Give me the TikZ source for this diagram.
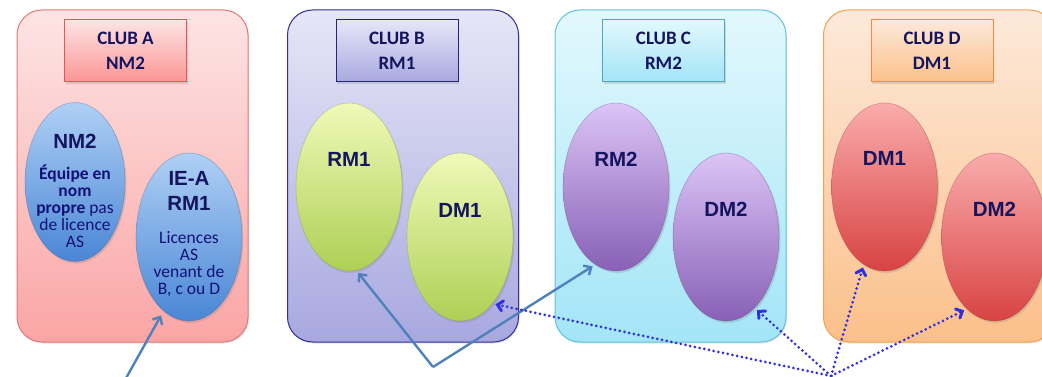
\documentclass[tikz,border=0pt]{standalone}
\usepackage{fontspec}
\setmainfont{Carlito}
\newfontfamily\arialfont{Liberation Sans}
\usetikzlibrary{shapes.geometric,arrows.meta,calc,positioning,shadows}
\definecolor{navy}{HTML}{14145F}
\definecolor{arrblue}{HTML}{4F81BD}
\definecolor{dotblue}{HTML}{3030E0}
\definecolor{lineA}{HTML}{E27878}\definecolor{topA}{HTML}{FDE4E4}\definecolor{botA}{HTML}{FBA5A5}
\definecolor{lineB}{HTML}{2E2E96}\definecolor{topB}{HTML}{E6E6F7}\definecolor{botB}{HTML}{A8A8E0}
\definecolor{lineC}{HTML}{60C3DC}\definecolor{topC}{HTML}{E2F8FD}\definecolor{botC}{HTML}{A3E5F7}
\definecolor{lineD}{HTML}{F4A050}\definecolor{topD}{HTML}{FDE9DA}\definecolor{botD}{HTML}{FBC08A}
\definecolor{ellAtop}{HTML}{AFD0F5}\definecolor{ellAbot}{HTML}{4A86D5}
\definecolor{ellBtop}{HTML}{F0F9B8}\definecolor{ellBbot}{HTML}{ADD055}
\definecolor{ellCtop}{HTML}{DCC4F6}\definecolor{ellCbot}{HTML}{8860B6}
\definecolor{ellDtop}{HTML}{FAACAC}\definecolor{ellDbot}{HTML}{D84343}
\tikzset{
	club/.style n args={3}{draw=#1, line width=1pt, rounded corners=25pt,
		top color=#2, bottom color=#3, minimum width=231pt, minimum height=332pt,
		inner sep=0pt, drop shadow={opacity=.2, shadow xshift=1pt, shadow yshift=-1.5pt}},
	club title/.style n args={3}{draw=#1, line width=1pt, top color=#2, bottom color=#3,
		minimum width=122pt, minimum height=62pt, inner sep=0pt, align=center, text=navy,
		font=\bfseries\fontsize{19}{25}\selectfont,
		drop shadow={opacity=.25, shadow xshift=1pt, shadow yshift=-2pt}},
	team/.style 2 args={ellipse, top color=#1, bottom color=#2, draw=#2!70!black,
		draw opacity=.35, line width=.6pt, minimum width=106pt, minimum height=168pt,
		inner sep=0pt, drop shadow={opacity=.25, shadow xshift=1.5pt, shadow yshift=-2pt}},
	tag/.style={font=\arialfont\bfseries\fontsize{20.5}{25}\selectfont, text=navy, align=center},
	note/.style={font=\fontsize{17.5}{17}\selectfont, text=navy!85!blue, align=center},
	solid link/.style={draw=arrblue, line width=2.4pt, shorten >=3pt,
		-{Straight Barb[length=6pt,width=11pt]}},
	dotted link/.style={draw=dotblue, line width=3pt, line cap=round,
		dash pattern=on 0pt off 4.8pt, shorten >=3pt,
		-{Straight Barb[length=5pt,width=10pt,line cap=round]}}
}

\begin{document}
\begin{tikzpicture}[x=1pt, y=-1pt]
	\path[use as bounding box, fill=white] (0,0) rectangle (1042,377);
	% the four clubs
	\node[club={lineA}{topA}{botA}] (clubA) at (132.5,176) {};
	\node[club={lineB}{topB}{botB}] (clubB) at (403,176) {};
	\node[club={lineC}{topC}{botC}] (clubC) at (670.5,176) {};
	\node[club={lineD}{topD}{botD}] (clubD) at (939,176) {};
	\node[club title={lineA!70!red}{topA}{botA!90!red}, below=10pt of clubA.north, xshift=-7pt] (titleA) {CLUB A\\NM2};
	\node[club title={lineB!80!black}{topB}{botB}, below=10pt of clubB.north, xshift=-6pt] (titleB) {CLUB B\\RM1};
	\node[club title={lineC!85!black}{topC}{botC}, below=10pt of clubC.north, xshift=-7pt] (titleC) {CLUB C\\RM2};
	\node[club title={lineD!85!red}{topD}{botD}, below=10pt of clubD.north, xshift=-7pt] (titleD) {CLUB D\\DM1};
	% teams
	\node[team={ellAtop}{ellAbot}, minimum width=100pt, minimum height=159pt] (aNM) at ($(clubA)+(-57.5,6)$) {};
	\node[team={ellAtop}{ellAbot}] (aIE) at ($(clubA)+(56.5,61)$) {};
	\node[team={ellBtop}{ellBbot}] (bRM) at ($(clubB)+(-54,11)$) {};
	\node[team={ellBtop}{ellBbot}] (bDM) at ($(clubB)+(57,61)$) {};
	\node[team={ellCtop}{ellCbot}] (cRM) at ($(clubC)+(-54.5,11)$) {};
	\node[team={ellCtop}{ellCbot}] (cDM) at ($(clubC)+(55.5,61)$) {};
	\node[team={ellDtop}{ellDbot}] (dDM) at ($(clubD)+(-54.5,11)$) {};
	\node[team={ellDtop}{ellDbot}] (dDMb) at ($(clubD)+(55.5,61)$) {};
	% texts
	\node[tag] (aNMt) at (75,141) {NM2};
	\node[note] (aNMn) at (75,206) {\textbf{Équipe en}\\\textbf{nom}\\\textbf{propre} pas\\de licence\\AS};
	\node[tag] (aIEt) at (189,191) {IE-A\\RM1};
	\node[note] (aIEn) at (189,264) {Licences\\AS\\venant de\\B, c ou D};
	\node[tag] (bRMt) at ($(bRM)+(0,-28)$) {RM1};
	\node[tag] (bDMt) at ($(bDM)+(0,-27)$) {DM1};
	\node[tag] (cRMt) at ($(cRM)+(0,-28)$) {RM2};
	\node[tag] (cDMt) at ($(cDM)+(0,-28)$) {DM2};
	\node[tag] (dDMt) at ($(dDM)+(0,-29)$) {DM1};
	\node[tag] (dDMbt) at ($(dDMb)+(0,-28)$) {DM2};
	% arrows
	\coordinate (srcA) at (125,380);
	\coordinate (srcB) at (433,367);
	\coordinate (srcD) at (831,376);
	\draw[solid link, shorten >=5pt] (srcA) -- (aIE.251);
	\draw[solid link] (srcB) -- (bRM.275);
	\draw[solid link] (srcB) -- (cRM.255);
	\draw[dotted link] (srcD) -- (bDM.296);
	\draw[dotted link] (srcD) -- (cDM.292);
	\draw[dotted link] (srcD) -- (dDM.255);
	\draw[dotted link] (srcD) -- (dDMb.249);
\end{tikzpicture}
\end{document}
